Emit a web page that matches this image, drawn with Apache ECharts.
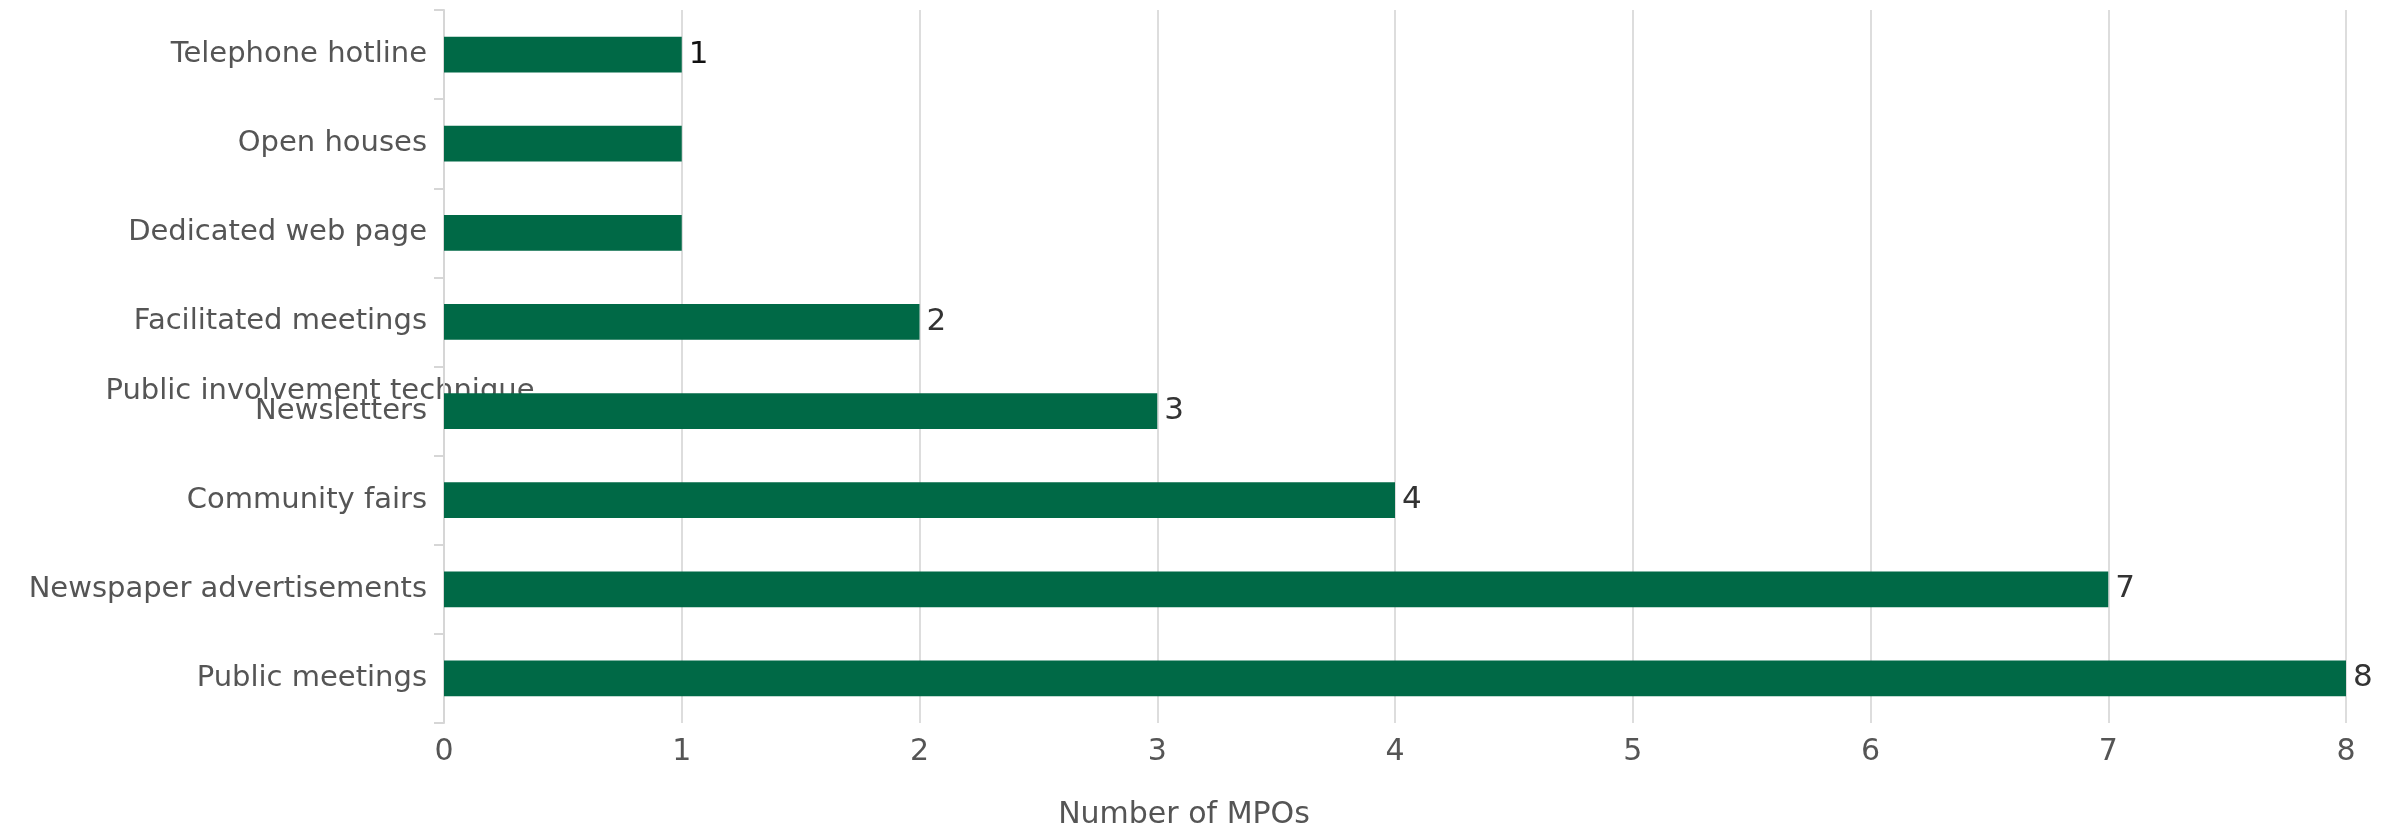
<!DOCTYPE html>
<html>
<head>
<meta charset="utf-8">
<title>Public involvement techniques used by MPOs</title>
<script src="https://cdn.jsdelivr.net/npm/echarts@6/dist/echarts.min.js"></script>
<style>
  html, body { margin: 0; padding: 0; background: #ffffff; }
  #chart { width: 2400px; height: 829px; }
</style>
</head>
<body>
<div id="chart"></div>
<script>
// Techniques, listed top to bottom
const categories = [
  'Telephone hotline',
  'Open houses',
  'Dedicated web page',
  'Facilitated meetings',
  'Newsletters',
  'Community fairs',
  'Newspaper advertisements',
  'Public meetings'
];
// Number of MPOs using each technique
const mpoCounts = [1, 1, 1, 2, 3, 4, 7, 8];
// Which bars carry a value label
const showValue = [true, false, false, true, true, true, true, true];
// Value axis ticks
const xTicks = [0, 1, 2, 3, 4, 5, 6, 7, 8];

const FONT = 'DejaVu Sans';
const BAR = '#006946';

const chart = echarts.init(document.getElementById('chart'), null, { renderer: 'canvas' });

chart.setOption({
  animation: false,
  backgroundColor: '#ffffff',
  textStyle: { fontFamily: FONT },
  grid: {
    left: 444, right: 54, top: 10, bottom: 106,
    containLabel: false,
    outerBoundsMode: 'none'
  },
  xAxis: {
    type: 'value',
    min: xTicks[0],
    max: xTicks[xTicks.length - 1],
    interval: 1,
    name: 'Number of MPOs',
    nameLocation: 'middle',
    nameGap: 92,
    nameTextStyle: {
      fontFamily: FONT, fontSize: 30, color: '#555555',
      align: 'center', verticalAlign: 'middle',
      padding: [0, 422, 0, 0]
    },
    axisLine: { show: false },
    axisTick: { show: false },
    axisLabel: { fontFamily: FONT, fontSize: 30, color: '#555555', margin: 14 },
    splitLine: { show: true, lineStyle: { color: '#dddddd', width: 2 } }
  },
  yAxis: {
    type: 'category',
    inverse: true,
    data: categories,
    name: 'Public involvement technique',
    nameLocation: 'middle',
    nameRotate: 0,
    nameGap: 124,
    nameMoveOverlap: false,
    nameTextStyle: {
      fontFamily: FONT, fontSize: 29, color: '#555555',
      align: 'center', verticalAlign: 'top',
      lineHeight: 50
    },
    axisLine: { show: true, lineStyle: { color: '#d6d6d6', width: 2 } },
    axisTick: { show: true, length: 10, lineStyle: { color: '#d6d6d6', width: 2 } },
    axisLabel: { fontFamily: FONT, fontSize: 29, color: '#555555', margin: 17 },
    splitLine: { show: false }
  },
  series: [{
    type: 'bar',
    barCategoryGap: '60%',
    itemStyle: { color: BAR },
    label: {
      show: true,
      position: 'right',
      distance: 7,
      fontFamily: FONT,
      fontSize: 31,
      color: '#333333'
    },
    data: mpoCounts.map((v, i) => ({
      value: v,
      label: { show: showValue[i], color: i === 0 ? '#111111' : '#333333' }
    }))
  }]
});
</script>
</body>
</html>
